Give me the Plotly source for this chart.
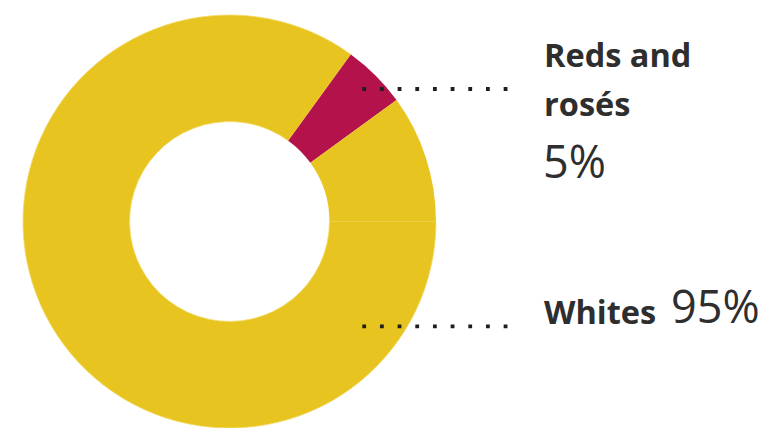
import plotly.graph_objects as go

# Data (whites drawn as two same-colour pieces, seam at 3 o'clock)
slice_labels = ["Whites", "Reds and rosés", "Whites "]
slice_values = [85, 5, 10]
slice_colors = ["#E8C420", "#B3124B", "#E8C420"]

label_reds = ["Reds and", "rosés"]
pct_reds = "5%"
label_whites = "Whites"
pct_whites = "95%"

W, H = 766, 428

fig = go.Figure()
fig.add_trace(go.Pie(
    labels=slice_labels,
    values=slice_values,
    sort=False,
    direction="clockwise",
    rotation=90,
    hole=0.484,
    marker=dict(colors=slice_colors, line=dict(color="#F2DA6A", width=[0.8, 0, 0])),
    textinfo="none",
    hoverinfo="label+percent",
    showlegend=False,
    domain=dict(x=[22 / W, 437 / W], y=[0, 1 - 15 / H]),
))

def px(x):
    return x / W

def py(y):
    return 1 - y / H

# dotted leader lines
for ly in (89, 326.3):
    fig.add_shape(type="line", xref="paper", yref="paper",
                  x0=px(362.3), x1=px(508), y0=py(ly), y1=py(ly),
                  line=dict(color="#1E1E1E", width=3.8, dash="3.8px,13.87px"))

txt = "#2E2E2E"
fig.add_annotation(xref="paper", yref="paper", x=px(542), y=py(55), xanchor="left", yanchor="middle",
                   text="<b>%s</b>" % label_reds[0], showarrow=False,
                   font=dict(family="Open Sans", size=32.5, color=txt))
fig.add_annotation(xref="paper", yref="paper", x=px(542), y=py(103), xanchor="left", yanchor="middle",
                   text="<b>%s</b>" % label_reds[1], showarrow=False,
                   font=dict(family="Open Sans", size=32.5, color=txt))
fig.add_annotation(xref="paper", yref="paper", x=px(541), y=py(160), xanchor="left", yanchor="middle",
                   text=pct_reds, showarrow=False,
                   font=dict(family="Open Sans", size=45, color=txt))
fig.add_annotation(xref="paper", yref="paper", x=px(542), y=py(311), xanchor="left", yanchor="middle",
                   text="<b>%s</b>" % label_whites, showarrow=False,
                   font=dict(family="Open Sans", size=32.5, color=txt))
fig.add_annotation(xref="paper", yref="paper", x=px(669), y=py(305), xanchor="left", yanchor="middle",
                   text=pct_whites, showarrow=False,
                   font=dict(family="Open Sans", size=45, color=txt))

fig.update_layout(
    width=W, height=H,
    margin=dict(l=0, r=0, t=0, b=0),
    paper_bgcolor="white", plot_bgcolor="white",
)

fig.write_html("out.html")
